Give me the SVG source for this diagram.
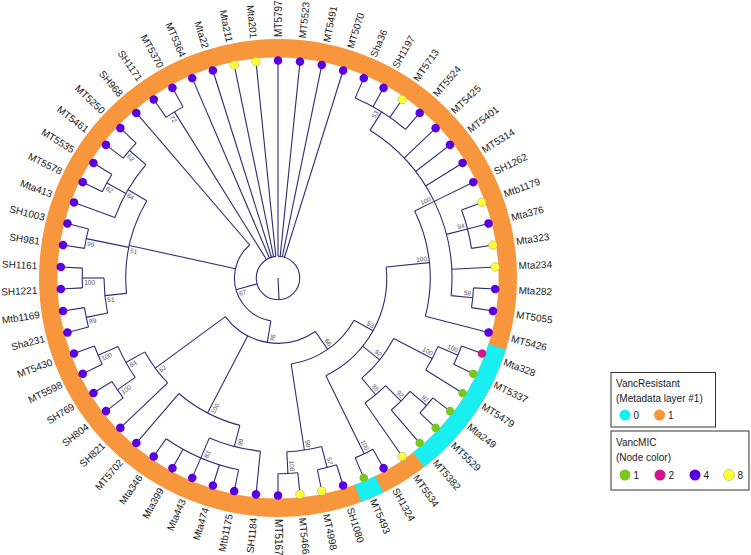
<svg xmlns="http://www.w3.org/2000/svg" width="751" height="555" viewBox="0 0 751 555">
<style>
.e{fill:none;stroke:#2c2c74;stroke-width:1.1}
.a{fill:none;stroke:#2c2c74;stroke-width:1.1}
.lb{font-family:"Liberation Sans",Arial,sans-serif;font-size:10px;fill:#1a1a1a}
.lf{text-anchor:end}
.bs{font-family:"Liberation Sans",Arial,sans-serif;font-size:6.5px;fill:#555;text-anchor:middle}
.pu{fill:#5a00e0}
.ye{fill:#ffff33;stroke:#b0b070;stroke-width:.6}
.gr{fill:#78c81e}
.mg{fill:#d0168c}
.lg{font-family:"Liberation Sans",Arial,sans-serif;font-size:10px;fill:#1a1a1a}
</style>
<rect width="751" height="555" fill="#fff"/>
<g id="ring">
<circle cx="278" cy="278" r="229.8" fill="none" stroke="#f7963c" stroke-width="18.4"/>
<circle cx="278" cy="278" r="229.8" fill="none" stroke="#19eef0" stroke-width="18.4" pathLength="360" stroke-dasharray="34.839 720" transform="rotate(17.419 278 278)"/>
<circle cx="278" cy="278" r="229.8" fill="none" stroke="#19eef0" stroke-width="18.4" pathLength="360" stroke-dasharray="5.806 720" transform="rotate(63.871 278 278)"/>
</g>
<g id="connectors">
<!-- arcs -->
<circle class="a" cx="278" cy="278" r="21.75" pathLength="360" stroke-dasharray="354.194 720" transform="rotate(-90 278 278)"/>
<circle class="a" cx="278" cy="278" r="43.5" pathLength="360" stroke-dasharray="129.92 720" transform="rotate(99.435 278 278)"/>
<circle class="a" cx="278" cy="278" r="65.25" pathLength="360" stroke-dasharray="88.549 720" transform="rotate(55.161 278 278)"/>
<circle class="a" cx="278" cy="278" r="87" pathLength="360" stroke-dasharray="52.258 720" transform="rotate(29.032 278 278)"/>
<circle class="a" cx="278" cy="278" r="108.75" pathLength="360" stroke-dasharray="69.677 720" transform="rotate(-5.806 278 278)"/>
<circle class="a" cx="278" cy="278" r="130.5" pathLength="360" stroke-dasharray="22.5 720" transform="rotate(27.581 278 278)"/>
<circle class="a" cx="278" cy="278" r="152.25" pathLength="360" stroke-dasharray="40.645 720" transform="rotate(-26.129 278 278)"/>
<circle class="a" cx="278" cy="278" r="152.25" pathLength="360" stroke-dasharray="10.161 720" transform="rotate(45 278 278)"/>
<circle class="a" cx="278" cy="278" r="152.25" pathLength="360" stroke-dasharray="26.129 720" transform="rotate(104.516 278 278)"/>
<circle class="a" cx="278" cy="278" r="152.25" pathLength="360" stroke-dasharray="14.516 720" transform="rotate(136.452 278 278)"/>
<circle class="a" cx="278" cy="278" r="152.25" pathLength="360" stroke-dasharray="36.29 720" transform="rotate(174.194 278 278)"/>
<circle class="a" cx="278" cy="278" r="174" pathLength="360" stroke-dasharray="63.871 720" transform="rotate(-58.065 278 278)"/>
<circle class="a" cx="278" cy="278" r="174" pathLength="360" stroke-dasharray="8.709 720" transform="rotate(23.226 278 278)"/>
<circle class="a" cx="278" cy="278" r="174" pathLength="360" stroke-dasharray="8.71 720" transform="rotate(40.645 278 278)"/>
<circle class="a" cx="278" cy="278" r="174" pathLength="360" stroke-dasharray="11.613 720" transform="rotate(75.484 278 278)"/>
<circle class="a" cx="278" cy="278" r="174" pathLength="360" stroke-dasharray="17.42 720" transform="rotate(95.806 278 278)"/>
<circle class="a" cx="278" cy="278" r="174" pathLength="360" stroke-dasharray="11.613 720" transform="rotate(145.161 278 278)"/>
<circle class="a" cx="278" cy="278" r="174" pathLength="360" stroke-dasharray="11.613 720" transform="rotate(168.387 278 278)"/>
<circle class="a" cx="278" cy="278" r="174" pathLength="360" stroke-dasharray="20.322 720" transform="rotate(200.323 278 278)"/>
<circle class="a" cx="278" cy="278" r="195.75" pathLength="360" stroke-dasharray="17.419 720" transform="rotate(-66.774 278 278)"/>
<circle class="a" cx="278" cy="278" r="195.75" pathLength="360" stroke-dasharray="11.613 720" transform="rotate(-20.323 278 278)"/>
<circle class="a" cx="278" cy="278" r="195.75" pathLength="360" stroke-dasharray="5.807 720" transform="rotate(2.903 278 278)"/>
<circle class="a" cx="278" cy="278" r="195.75" pathLength="360" stroke-dasharray="5.806 720" transform="rotate(20.323 278 278)"/>
<circle class="a" cx="278" cy="278" r="195.75" pathLength="360" stroke-dasharray="5.806 720" transform="rotate(37.742 278 278)"/>
<circle class="a" cx="278" cy="278" r="195.75" pathLength="360" stroke-dasharray="5.806 720" transform="rotate(60.968 278 278)"/>
<circle class="a" cx="278" cy="278" r="195.75" pathLength="360" stroke-dasharray="5.806 720" transform="rotate(72.581 278 278)"/>
<circle class="a" cx="278" cy="278" r="195.75" pathLength="360" stroke-dasharray="5.806 720" transform="rotate(84.194 278 278)"/>
<circle class="a" cx="278" cy="278" r="195.75" pathLength="360" stroke-dasharray="23.226 720" transform="rotate(101.613 278 278)"/>
<circle class="a" cx="278" cy="278" r="195.75" pathLength="360" stroke-dasharray="5.807 720" transform="rotate(142.258 278 278)"/>
<circle class="a" cx="278" cy="278" r="195.75" pathLength="360" stroke-dasharray="5.806 720" transform="rotate(153.871 278 278)"/>
<circle class="a" cx="278" cy="278" r="195.75" pathLength="360" stroke-dasharray="5.806 720" transform="rotate(165.484 278 278)"/>
<circle class="a" cx="278" cy="278" r="195.75" pathLength="360" stroke-dasharray="5.806 720" transform="rotate(177.097 278 278)"/>
<circle class="a" cx="278" cy="278" r="195.75" pathLength="360" stroke-dasharray="5.806 720" transform="rotate(188.71 278 278)"/>
<circle class="a" cx="278" cy="278" r="195.75" pathLength="360" stroke-dasharray="5.806 720" transform="rotate(206.129 278 278)"/>
<circle class="a" cx="278" cy="278" r="195.75" pathLength="360" stroke-dasharray="5.806 720" transform="rotate(217.742 278 278)"/>
<circle class="a" cx="278" cy="278" r="195.75" pathLength="360" stroke-dasharray="5.807 720" transform="rotate(235.161 278 278)"/>
<!-- internal radial branches -->
<path class="e" transform="rotate(87.097 278 278)" d="M278 278H299.75"/>
<path class="e" transform="rotate(-58.065 278 278)" d="M452 278H473.75"/>
<path class="e" transform="rotate(-14.516 278 278)" d="M452 278H473.75"/>
<path class="e" transform="rotate(5.806 278 278)" d="M452 278H473.75"/>
<path class="e" transform="rotate(-26.129 278 278)" d="M430.25 278H452"/>
<path class="e" transform="rotate(-5.806 278 278)" d="M386.75 278H430.25"/>
<path class="e" transform="rotate(23.226 278 278)" d="M452 278H473.75"/>
<path class="e" transform="rotate(27.581 278 278)" d="M408.5 278H452"/>
<path class="e" transform="rotate(40.645 278 278)" d="M452 278H473.75"/>
<path class="e" transform="rotate(45 278 278)" d="M430.25 278H452"/>
<path class="e" transform="rotate(50.081 278 278)" d="M408.5 278H430.25"/>
<path class="e" transform="rotate(38.831 278 278)" d="M386.75 278H408.5"/>
<path class="e" transform="rotate(63.871 278 278)" d="M386.75 278H473.75"/>
<path class="e" transform="rotate(29.032 278 278)" d="M365 278H386.75"/>
<path class="e" transform="rotate(75.484 278 278)" d="M452 278H473.75"/>
<path class="e" transform="rotate(87.097 278 278)" d="M452 278H473.75"/>
<path class="e" transform="rotate(81.29 278 278)" d="M365 278H452"/>
<path class="e" transform="rotate(55.161 278 278)" d="M343.25 278H365"/>
<path class="e" transform="rotate(113.226 278 278)" d="M452 278H473.75"/>
<path class="e" transform="rotate(104.516 278 278)" d="M430.25 278H452"/>
<path class="e" transform="rotate(117.581 278 278)" d="M343.25 278H430.25"/>
<path class="e" transform="rotate(145.161 278 278)" d="M452 278H473.75"/>
<path class="e" transform="rotate(156.774 278 278)" d="M452 278H473.75"/>
<path class="e" transform="rotate(150.968 278 278)" d="M430.25 278H452"/>
<path class="e" transform="rotate(143.71 278 278)" d="M343.25 278H430.25"/>
<path class="e" transform="rotate(99.435 278 278)" d="M321.5 278H343.25"/>
<path class="e" transform="rotate(168.387 278 278)" d="M452 278H473.75"/>
<path class="e" transform="rotate(180 278 278)" d="M452 278H473.75"/>
<path class="e" transform="rotate(174.194 278 278)" d="M430.25 278H452"/>
<path class="e" transform="rotate(191.613 278 278)" d="M430.25 278H473.75"/>
<path class="e" transform="rotate(209.032 278 278)" d="M452 278H473.75"/>
<path class="e" transform="rotate(220.645 278 278)" d="M452 278H473.75"/>
<path class="e" transform="rotate(210.484 278 278)" d="M430.25 278H452"/>
<path class="e" transform="rotate(192.339 278 278)" d="M321.5 278H430.25"/>
<path class="e" transform="rotate(164.395 278 278)" d="M299.75 278H321.5"/>
<path class="e" transform="rotate(238.065 278 278)" d="M299.75 278H473.75"/>
<!-- leaf branches -->
<path class="e" transform="rotate(-90 278 278)" d="M299.75 278H495.5"/>
<path class="e" transform="rotate(-84.194 278 278)" d="M299.75 278H495.5"/>
<path class="e" transform="rotate(-78.387 278 278)" d="M299.75 278H495.5"/>
<path class="e" transform="rotate(-72.581 278 278)" d="M299.75 278H495.5"/>
<path class="e" transform="rotate(-66.774 278 278)" d="M473.75 278H495.5"/>
<path class="e" transform="rotate(-60.968 278 278)" d="M473.75 278H495.5"/>
<path class="e" transform="rotate(-55.161 278 278)" d="M473.75 278H495.5"/>
<path class="e" transform="rotate(-49.355 278 278)" d="M473.75 278H495.5"/>
<path class="e" transform="rotate(-43.548 278 278)" d="M452 278H495.5"/>
<path class="e" transform="rotate(-37.742 278 278)" d="M452 278H495.5"/>
<path class="e" transform="rotate(-31.935 278 278)" d="M452 278H495.5"/>
<path class="e" transform="rotate(-26.129 278 278)" d="M452 278H495.5"/>
<path class="e" transform="rotate(-20.323 278 278)" d="M473.75 278H495.5"/>
<path class="e" transform="rotate(-14.516 278 278)" d="M473.75 278H495.5"/>
<path class="e" transform="rotate(-8.71 278 278)" d="M473.75 278H495.5"/>
<path class="e" transform="rotate(-2.903 278 278)" d="M452 278H495.5"/>
<path class="e" transform="rotate(2.903 278 278)" d="M473.75 278H495.5"/>
<path class="e" transform="rotate(8.71 278 278)" d="M473.75 278H495.5"/>
<path class="e" transform="rotate(14.516 278 278)" d="M430.25 278H495.5"/>
<path class="e" transform="rotate(20.323 278 278)" d="M473.75 278H495.5"/>
<path class="e" transform="rotate(26.129 278 278)" d="M473.75 278H495.5"/>
<path class="e" transform="rotate(31.935 278 278)" d="M452 278H495.5"/>
<path class="e" transform="rotate(37.742 278 278)" d="M473.75 278H495.5"/>
<path class="e" transform="rotate(43.548 278 278)" d="M473.75 278H495.5"/>
<path class="e" transform="rotate(49.355 278 278)" d="M452 278H495.5"/>
<path class="e" transform="rotate(55.161 278 278)" d="M430.25 278H495.5"/>
<path class="e" transform="rotate(60.968 278 278)" d="M473.75 278H495.5"/>
<path class="e" transform="rotate(66.774 278 278)" d="M473.75 278H495.5"/>
<path class="e" transform="rotate(72.581 278 278)" d="M473.75 278H495.5"/>
<path class="e" transform="rotate(78.387 278 278)" d="M473.75 278H495.5"/>
<path class="e" transform="rotate(84.194 278 278)" d="M473.75 278H495.5"/>
<path class="e" transform="rotate(90 278 278)" d="M473.75 278H495.5"/>
<path class="e" transform="rotate(95.806 278 278)" d="M452 278H495.5"/>
<path class="e" transform="rotate(101.613 278 278)" d="M473.75 278H495.5"/>
<path class="e" transform="rotate(107.419 278 278)" d="M473.75 278H495.5"/>
<path class="e" transform="rotate(113.226 278 278)" d="M473.75 278H495.5"/>
<path class="e" transform="rotate(119.032 278 278)" d="M473.75 278H495.5"/>
<path class="e" transform="rotate(124.839 278 278)" d="M473.75 278H495.5"/>
<path class="e" transform="rotate(130.645 278 278)" d="M430.25 278H495.5"/>
<path class="e" transform="rotate(136.452 278 278)" d="M430.25 278H495.5"/>
<path class="e" transform="rotate(142.258 278 278)" d="M473.75 278H495.5"/>
<path class="e" transform="rotate(148.065 278 278)" d="M473.75 278H495.5"/>
<path class="e" transform="rotate(153.871 278 278)" d="M473.75 278H495.5"/>
<path class="e" transform="rotate(159.677 278 278)" d="M473.75 278H495.5"/>
<path class="e" transform="rotate(165.484 278 278)" d="M473.75 278H495.5"/>
<path class="e" transform="rotate(171.29 278 278)" d="M473.75 278H495.5"/>
<path class="e" transform="rotate(177.097 278 278)" d="M473.75 278H495.5"/>
<path class="e" transform="rotate(182.903 278 278)" d="M473.75 278H495.5"/>
<path class="e" transform="rotate(188.71 278 278)" d="M473.75 278H495.5"/>
<path class="e" transform="rotate(194.516 278 278)" d="M473.75 278H495.5"/>
<path class="e" transform="rotate(200.323 278 278)" d="M452 278H495.5"/>
<path class="e" transform="rotate(206.129 278 278)" d="M473.75 278H495.5"/>
<path class="e" transform="rotate(211.935 278 278)" d="M473.75 278H495.5"/>
<path class="e" transform="rotate(217.742 278 278)" d="M473.75 278H495.5"/>
<path class="e" transform="rotate(223.548 278 278)" d="M473.75 278H495.5"/>
<path class="e" transform="rotate(229.355 278 278)" d="M321.5 278H495.5"/>
<path class="e" transform="rotate(235.161 278 278)" d="M473.75 278H495.5"/>
<path class="e" transform="rotate(240.968 278 278)" d="M473.75 278H495.5"/>
<path class="e" transform="rotate(246.774 278 278)" d="M299.75 278H495.5"/>
<path class="e" transform="rotate(252.581 278 278)" d="M299.75 278H495.5"/>
<path class="e" transform="rotate(258.387 278 278)" d="M299.75 278H495.5"/>
<path class="e" transform="rotate(264.194 278 278)" d="M299.75 278H495.5"/>
</g>
<g id="support">
<text class="bs" x="468.15" y="276" transform="rotate(-58.065 278 278)">53</text>
<text class="bs" x="468.15" y="276" transform="rotate(-14.516 278 278)">94</text>
<text class="bs" x="468.15" y="276" transform="rotate(5.806 278 278)">58</text>
<text class="bs" x="444.6" y="276" transform="rotate(-26.129 278 278)">100</text>
<text class="bs" x="422.85" y="276" transform="rotate(-5.806 278 278)">100</text>
<text class="bs" x="466.35" y="276" transform="rotate(23.226 278 278)">100</text>
<text class="bs" x="444.6" y="276" transform="rotate(27.581 278 278)">100</text>
<text class="bs" x="468.15" y="276" transform="rotate(40.645 278 278)">92</text>
<text class="bs" x="446.4" y="276" transform="rotate(45 278 278)">92</text>
<text class="bs" x="424.65" y="276" transform="rotate(50.081 278 278)">86</text>
<text class="bs" x="403.1" y="276" transform="rotate(38.831 278 278)">92</text>
<text class="bs" x="466.35" y="276" transform="rotate(63.871 278 278)">100</text>
<text class="bs" x="381.35" y="276" transform="rotate(29.032 278 278)">53</text>
<text class="bs" x="468.15" y="276" transform="rotate(75.484 278 278)">57</text>
<text class="bs" x="466.35" y="276" transform="rotate(87.097 278 278)">100</text>
<text class="bs" x="446.4" y="276" transform="rotate(81.29 278 278)">98</text>
<text class="bs" x="359.6" y="276" transform="rotate(55.161 278 278)">66</text>
<text class="bs" x="468.15" y="276" transform="rotate(113.226 278 278) rotate(180 468.15 273.5)">83</text>
<text class="bs" x="446.4" y="276" transform="rotate(104.516 278 278) rotate(180 446.4 273.5)">99</text>
<text class="bs" x="422.85" y="276" transform="rotate(117.581 278 278) rotate(180 422.85 273.5)">100</text>
<text class="bs" x="466.35" y="276" transform="rotate(145.161 278 278) rotate(180 466.35 273.5)">100</text>
<text class="bs" x="466.35" y="276" transform="rotate(156.774 278 278) rotate(180 466.35 273.5)">100</text>
<text class="bs" x="446.4" y="276" transform="rotate(150.968 278 278) rotate(180 446.4 273.5)">84</text>
<text class="bs" x="424.65" y="276" transform="rotate(143.71 278 278) rotate(180 424.65 273.5)">62</text>
<text class="bs" x="337.85" y="276" transform="rotate(99.435 278 278) rotate(180 337.85 273.5)">76</text>
<text class="bs" x="468.15" y="276" transform="rotate(168.387 278 278) rotate(180 468.15 273.5)">99</text>
<text class="bs" x="466.35" y="276" transform="rotate(180 278 278) rotate(180 466.35 273.5)">100</text>
<text class="bs" x="446.4" y="276" transform="rotate(174.194 278 278) rotate(180 446.4 273.5)">51</text>
<text class="bs" x="468.15" y="276" transform="rotate(191.613 278 278) rotate(180 468.15 273.5)">99</text>
<text class="bs" x="468.15" y="276" transform="rotate(209.032 278 278) rotate(180 468.15 273.5)">62</text>
<text class="bs" x="468.15" y="276" transform="rotate(220.645 278 278) rotate(180 468.15 273.5)">62</text>
<text class="bs" x="446.4" y="276" transform="rotate(210.484 278 278) rotate(180 446.4 273.5)">64</text>
<text class="bs" x="424.65" y="276" transform="rotate(192.339 278 278) rotate(180 424.65 273.5)">51</text>
<text class="bs" x="316.1" y="276" transform="rotate(164.395 278 278) rotate(180 316.1 273.5)">67</text>
<text class="bs" x="468.15" y="276" transform="rotate(238.065 278 278) rotate(180 468.15 273.5)">72</text>
</g>
<g id="leaves">
<g id="n-MT5797" transform="rotate(-90 278 278)"><circle class="pu" cx="495.5" cy="278" r="4.3"/><text class="lb" x="519" y="281.5">MT5797</text></g>
<g id="n-MT5523" transform="rotate(-84.194 278 278)"><circle class="pu" cx="495.5" cy="278" r="4.3"/><text class="lb" x="519" y="281.5">MT5523</text></g>
<g id="n-MT5491" transform="rotate(-78.387 278 278)"><circle class="pu" cx="495.5" cy="278" r="4.3"/><text class="lb" x="519" y="281.5">MT5491</text></g>
<g id="n-MT5070" transform="rotate(-72.581 278 278)"><circle class="pu" cx="495.5" cy="278" r="4.3"/><text class="lb" x="519" y="281.5">MT5070</text></g>
<g id="n-Sha36" transform="rotate(-66.774 278 278)"><circle class="pu" cx="495.5" cy="278" r="4.3"/><text class="lb" x="519" y="281.5">Sha36</text></g>
<g id="n-SH1197" transform="rotate(-60.968 278 278)"><circle class="pu" cx="495.5" cy="278" r="4.3"/><text class="lb" x="519" y="281.5">SH1197</text></g>
<g id="n-MT5713" transform="rotate(-55.161 278 278)"><circle class="ye" cx="495.5" cy="278" r="4.3"/><text class="lb" x="519" y="281.5">MT5713</text></g>
<g id="n-MT5524" transform="rotate(-49.355 278 278)"><circle class="pu" cx="495.5" cy="278" r="4.3"/><text class="lb" x="519" y="281.5">MT5524</text></g>
<g id="n-MT5425" transform="rotate(-43.548 278 278)"><circle class="pu" cx="495.5" cy="278" r="4.3"/><text class="lb" x="519" y="281.5">MT5425</text></g>
<g id="n-MT5401" transform="rotate(-37.742 278 278)"><circle class="pu" cx="495.5" cy="278" r="4.3"/><text class="lb" x="519" y="281.5">MT5401</text></g>
<g id="n-MT5314" transform="rotate(-31.935 278 278)"><circle class="pu" cx="495.5" cy="278" r="4.3"/><text class="lb" x="519" y="281.5">MT5314</text></g>
<g id="n-SH1262" transform="rotate(-26.129 278 278)"><circle class="pu" cx="495.5" cy="278" r="4.3"/><text class="lb" x="519" y="281.5">SH1262</text></g>
<g id="n-Mtb1179" transform="rotate(-20.323 278 278)"><circle class="ye" cx="495.5" cy="278" r="4.3"/><text class="lb" x="519" y="281.5">Mtb1179</text></g>
<g id="n-Mta376" transform="rotate(-14.516 278 278)"><circle class="pu" cx="495.5" cy="278" r="4.3"/><text class="lb" x="519" y="281.5">Mta376</text></g>
<g id="n-Mta323" transform="rotate(-8.71 278 278)"><circle class="ye" cx="495.5" cy="278" r="4.3"/><text class="lb" x="519" y="281.5">Mta323</text></g>
<g id="n-Mta234" transform="rotate(-2.903 278 278)"><circle class="ye" cx="495.5" cy="278" r="4.3"/><text class="lb" x="519" y="281.5">Mta234</text></g>
<g id="n-Mta282" transform="rotate(2.903 278 278)"><circle class="pu" cx="495.5" cy="278" r="4.3"/><text class="lb" x="519" y="281.5">Mta282</text></g>
<g id="n-MT5055" transform="rotate(8.71 278 278)"><circle class="pu" cx="495.5" cy="278" r="4.3"/><text class="lb" x="519" y="281.5">MT5055</text></g>
<g id="n-MT5426" transform="rotate(14.516 278 278)"><circle class="pu" cx="495.5" cy="278" r="4.3"/><text class="lb" x="519" y="281.5">MT5426</text></g>
<g id="n-Mta328" transform="rotate(20.323 278 278)"><circle class="mg" cx="495.5" cy="278" r="4.3"/><text class="lb" x="519" y="281.5">Mta328</text></g>
<g id="n-MT5337" transform="rotate(26.129 278 278)"><circle class="gr" cx="495.5" cy="278" r="4.3"/><text class="lb" x="519" y="281.5">MT5337</text></g>
<g id="n-MT5479" transform="rotate(31.935 278 278)"><circle class="gr" cx="495.5" cy="278" r="4.3"/><text class="lb" x="519" y="281.5">MT5479</text></g>
<g id="n-Mta249" transform="rotate(37.742 278 278)"><circle class="gr" cx="495.5" cy="278" r="4.3"/><text class="lb" x="519" y="281.5">Mta249</text></g>
<g id="n-MT5529" transform="rotate(43.548 278 278)"><circle class="gr" cx="495.5" cy="278" r="4.3"/><text class="lb" x="519" y="281.5">MT5529</text></g>
<g id="n-MT5382" transform="rotate(49.355 278 278)"><circle class="gr" cx="495.5" cy="278" r="4.3"/><text class="lb" x="519" y="281.5">MT5382</text></g>
<g id="n-MT5534" transform="rotate(55.161 278 278)"><circle class="ye" cx="495.5" cy="278" r="4.3"/><text class="lb" x="519" y="281.5">MT5534</text></g>
<g id="n-SH1324" transform="rotate(60.968 278 278)"><circle class="pu" cx="495.5" cy="278" r="4.3"/><text class="lb" x="519" y="281.5">SH1324</text></g>
<g id="n-MT5493" transform="rotate(66.774 278 278)"><circle class="gr" cx="495.5" cy="278" r="4.3"/><text class="lb" x="519" y="281.5">MT5493</text></g>
<g id="n-SH1080" transform="rotate(72.581 278 278)"><circle class="pu" cx="495.5" cy="278" r="4.3"/><text class="lb" x="519" y="281.5">SH1080</text></g>
<g id="n-MT4998" transform="rotate(78.387 278 278)"><circle class="ye" cx="495.5" cy="278" r="4.3"/><text class="lb" x="519" y="281.5">MT4998</text></g>
<g id="n-MT5466" transform="rotate(84.194 278 278)"><circle class="ye" cx="495.5" cy="278" r="4.3"/><text class="lb" x="519" y="281.5">MT5466</text></g>
<g id="n-MT5167" transform="rotate(90 278 278)"><circle class="pu" cx="495.5" cy="278" r="4.3"/><text class="lb" x="519" y="281.5">MT5167</text></g>
<g id="n-SH1184" transform="rotate(95.806 278 278)"><circle class="pu" cx="495.5" cy="278" r="4.3"/><text class="lb lf" x="519" y="281.5" transform="rotate(180 519 278)">SH1184</text></g>
<g id="n-Mtb1175" transform="rotate(101.613 278 278)"><circle class="pu" cx="495.5" cy="278" r="4.3"/><text class="lb lf" x="519" y="281.5" transform="rotate(180 519 278)">Mtb1175</text></g>
<g id="n-Mta474" transform="rotate(107.419 278 278)"><circle class="pu" cx="495.5" cy="278" r="4.3"/><text class="lb lf" x="519" y="281.5" transform="rotate(180 519 278)">Mta474</text></g>
<g id="n-Mta443" transform="rotate(113.226 278 278)"><circle class="pu" cx="495.5" cy="278" r="4.3"/><text class="lb lf" x="519" y="281.5" transform="rotate(180 519 278)">Mta443</text></g>
<g id="n-Mta399" transform="rotate(119.032 278 278)"><circle class="pu" cx="495.5" cy="278" r="4.3"/><text class="lb lf" x="519" y="281.5" transform="rotate(180 519 278)">Mta399</text></g>
<g id="n-Mta346" transform="rotate(124.839 278 278)"><circle class="pu" cx="495.5" cy="278" r="4.3"/><text class="lb lf" x="519" y="281.5" transform="rotate(180 519 278)">Mta346</text></g>
<g id="n-MT5702" transform="rotate(130.645 278 278)"><circle class="pu" cx="495.5" cy="278" r="4.3"/><text class="lb lf" x="519" y="281.5" transform="rotate(180 519 278)">MT5702</text></g>
<g id="n-SH821" transform="rotate(136.452 278 278)"><circle class="pu" cx="495.5" cy="278" r="4.3"/><text class="lb lf" x="519" y="281.5" transform="rotate(180 519 278)">SH821</text></g>
<g id="n-SH804" transform="rotate(142.258 278 278)"><circle class="pu" cx="495.5" cy="278" r="4.3"/><text class="lb lf" x="519" y="281.5" transform="rotate(180 519 278)">SH804</text></g>
<g id="n-SH769" transform="rotate(148.065 278 278)"><circle class="pu" cx="495.5" cy="278" r="4.3"/><text class="lb lf" x="519" y="281.5" transform="rotate(180 519 278)">SH769</text></g>
<g id="n-MT5598" transform="rotate(153.871 278 278)"><circle class="pu" cx="495.5" cy="278" r="4.3"/><text class="lb lf" x="519" y="281.5" transform="rotate(180 519 278)">MT5598</text></g>
<g id="n-MT5430" transform="rotate(159.677 278 278)"><circle class="pu" cx="495.5" cy="278" r="4.3"/><text class="lb lf" x="519" y="281.5" transform="rotate(180 519 278)">MT5430</text></g>
<g id="n-Sha231" transform="rotate(165.484 278 278)"><circle class="pu" cx="495.5" cy="278" r="4.3"/><text class="lb lf" x="519" y="281.5" transform="rotate(180 519 278)">Sha231</text></g>
<g id="n-Mtb1169" transform="rotate(171.29 278 278)"><circle class="pu" cx="495.5" cy="278" r="4.3"/><text class="lb lf" x="519" y="281.5" transform="rotate(180 519 278)">Mtb1169</text></g>
<g id="n-SH1221" transform="rotate(177.097 278 278)"><circle class="pu" cx="495.5" cy="278" r="4.3"/><text class="lb lf" x="519" y="281.5" transform="rotate(180 519 278)">SH1221</text></g>
<g id="n-SH1161" transform="rotate(182.903 278 278)"><circle class="pu" cx="495.5" cy="278" r="4.3"/><text class="lb lf" x="519" y="281.5" transform="rotate(180 519 278)">SH1161</text></g>
<g id="n-SH981" transform="rotate(188.71 278 278)"><circle class="pu" cx="495.5" cy="278" r="4.3"/><text class="lb lf" x="519" y="281.5" transform="rotate(180 519 278)">SH981</text></g>
<g id="n-SH1003" transform="rotate(194.516 278 278)"><circle class="pu" cx="495.5" cy="278" r="4.3"/><text class="lb lf" x="519" y="281.5" transform="rotate(180 519 278)">SH1003</text></g>
<g id="n-Mta413" transform="rotate(200.323 278 278)"><circle class="pu" cx="495.5" cy="278" r="4.3"/><text class="lb lf" x="519" y="281.5" transform="rotate(180 519 278)">Mta413</text></g>
<g id="n-MT5578" transform="rotate(206.129 278 278)"><circle class="pu" cx="495.5" cy="278" r="4.3"/><text class="lb lf" x="519" y="281.5" transform="rotate(180 519 278)">MT5578</text></g>
<g id="n-MT5535" transform="rotate(211.935 278 278)"><circle class="pu" cx="495.5" cy="278" r="4.3"/><text class="lb lf" x="519" y="281.5" transform="rotate(180 519 278)">MT5535</text></g>
<g id="n-MT5461" transform="rotate(217.742 278 278)"><circle class="pu" cx="495.5" cy="278" r="4.3"/><text class="lb lf" x="519" y="281.5" transform="rotate(180 519 278)">MT5461</text></g>
<g id="n-MT5250" transform="rotate(223.548 278 278)"><circle class="pu" cx="495.5" cy="278" r="4.3"/><text class="lb lf" x="519" y="281.5" transform="rotate(180 519 278)">MT5250</text></g>
<g id="n-SH968" transform="rotate(229.355 278 278)"><circle class="pu" cx="495.5" cy="278" r="4.3"/><text class="lb lf" x="519" y="281.5" transform="rotate(180 519 278)">SH968</text></g>
<g id="n-SH1171" transform="rotate(235.161 278 278)"><circle class="pu" cx="495.5" cy="278" r="4.3"/><text class="lb lf" x="519" y="281.5" transform="rotate(180 519 278)">SH1171</text></g>
<g id="n-MT5370" transform="rotate(240.968 278 278)"><circle class="pu" cx="495.5" cy="278" r="4.3"/><text class="lb lf" x="519" y="281.5" transform="rotate(180 519 278)">MT5370</text></g>
<g id="n-MT5364" transform="rotate(246.774 278 278)"><circle class="pu" cx="495.5" cy="278" r="4.3"/><text class="lb lf" x="519" y="281.5" transform="rotate(180 519 278)">MT5364</text></g>
<g id="n-Mta22" transform="rotate(252.581 278 278)"><circle class="pu" cx="495.5" cy="278" r="4.3"/><text class="lb lf" x="519" y="281.5" transform="rotate(180 519 278)">Mta22</text></g>
<g id="n-Mta211" transform="rotate(258.387 278 278)"><circle class="ye" cx="495.5" cy="278" r="4.3"/><text class="lb lf" x="519" y="281.5" transform="rotate(180 519 278)">Mta211</text></g>
<g id="n-Mta201" transform="rotate(264.194 278 278)"><circle class="ye" cx="495.5" cy="278" r="4.3"/><text class="lb lf" x="519" y="281.5" transform="rotate(180 519 278)">Mta201</text></g>
</g>
<g id="legend-resistant">
<rect x="611" y="372.5" width="104.5" height="54.5" fill="#fff" stroke="#333" stroke-width="1"/>
<text class="lg" x="616" y="387">VancResistant</text>
<text class="lg" x="616" y="402">(Metadata layer #1)</text>
<circle cx="625" cy="415" r="5.5" fill="#19eef0"/>
<text class="lg" x="633.5" y="418.5">0</text>
<circle cx="659.5" cy="415" r="5.5" fill="#f7963c"/>
<text class="lg" x="668" y="418.5">1</text>
</g>
<g id="legend-mic">
<rect x="611" y="431" width="138" height="59" fill="#fff" stroke="#333" stroke-width="1"/>
<text class="lg" x="616" y="446">VancMIC</text>
<text class="lg" x="616" y="461">(Node color)</text>
<circle cx="625" cy="475" r="5.5" fill="#78c81e"/>
<text class="lg" x="633.5" y="478.5">1</text>
<circle cx="660" cy="475" r="5.5" fill="#d0168c"/>
<text class="lg" x="668.5" y="478.5">2</text>
<circle cx="695" cy="475" r="5.5" fill="#5a00e0"/>
<text class="lg" x="703.5" y="478.5">4</text>
<circle cx="729" cy="475" r="5.5" fill="#ffff33" stroke="#b0b070" stroke-width=".6"/>
<text class="lg" x="737.5" y="478.5">8</text>
</g>
</svg>
